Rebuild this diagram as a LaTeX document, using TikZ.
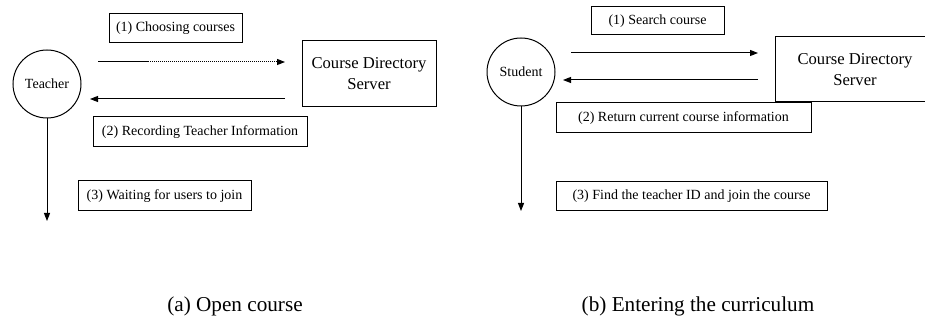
\documentclass[tikz,border=0pt]{standalone}
\usepackage{fontspec}
\setmainfont{Liberation Serif}
\usepackage{tikz}
\usetikzlibrary{arrows.meta, positioning}

\begin{document}
\begin{tikzpicture}[
    x=0.5pt, y=-0.5pt,
    line width=0.5pt,
    actor/.style={draw, circle, minimum size=34pt, inner sep=0pt,
        font=\fontsize{7}{8.5}\selectfont},
    server/.style={draw, rectangle, align=center,
        font=\fontsize{8.3}{10.5}\selectfont},
    note/.style={draw, rectangle, inner sep=0pt,
        font=\fontsize{7}{8.5}\selectfont},
    msg/.style={-{Triangle[length=4pt, width=3pt]}},
    dots/.style={dash pattern=on 0.5pt off 0.5pt},
    caption/.style={font=\fontsize{10.6}{12}\selectfont}
]

\useasboundingbox (0,0) rectangle (925,320);
\clip (0,0) rectangle (925,320);

% (a) open course
\node[actor] (T) at (47,84) {Teacher};
\node[server, minimum width=67pt, minimum height=33pt] (SA) at (369,74)
    {Course Directory\\Server};
\node[note, minimum width=66.5pt, minimum height=14.5pt] (A1) at (175.5,28.5) {(1) Choosing courses};
\node[note, minimum width=107pt, minimum height=15pt] (A2) at (200,132) {(2) Recording Teacher Information};
\node[note, minimum width=86.5pt, minimum height=15pt] (A3) at (164.5,196) {(3) Waiting for users to join};

\coordinate (a1s) at (98,62);
\coordinate (a1m) at (148,62);
\coordinate (a1e) at (285,62);
\coordinate (a2s) at (285,99);
\coordinate (a2e) at (90,99);
\coordinate (a3e) at (47,221);

\draw (a1s) -- (a1m);
\draw[msg, dots] (a1m) -- (a1e);
\draw[msg] (a2s) -- (a2e);
\draw[msg] (T.south) -- (a3e);

% (b) entering the curriculum
\node[actor] (S) at (521,72) {Student};
\node[server, minimum width=80pt, minimum height=32.5pt] (SB) at (855,69.5)
    {Course Directory\\Server};
\node[note, minimum width=66.5pt, minimum height=14pt] (B1) at (657.5,21) {(1) Search course};
\node[note, minimum width=127.5pt, minimum height=15pt] (B2) at (683.5,118) {(2) Return current course information};
\node[note, minimum width=135.5pt, minimum height=14.5pt] (B3) at (691.5,196.5) {(3) Find the teacher ID and join the course};

\coordinate (b1s) at (571,53);
\coordinate (b1e) at (758,53);
\coordinate (b2s) at (758,80);
\coordinate (b2e) at (563,80);
\coordinate (b3e) at (521,211);

\draw[msg] (b1s) -- (b1e);
\draw[msg] (b2s) -- (b2e);
\draw[msg] (S.south) -- (b3e);

% captions
\node[caption] (capA) at (235,306) {(a) Open course};
\node[caption] (capB) at (698,306) {(b) Entering the curriculum};

\end{tikzpicture}
\end{document}
